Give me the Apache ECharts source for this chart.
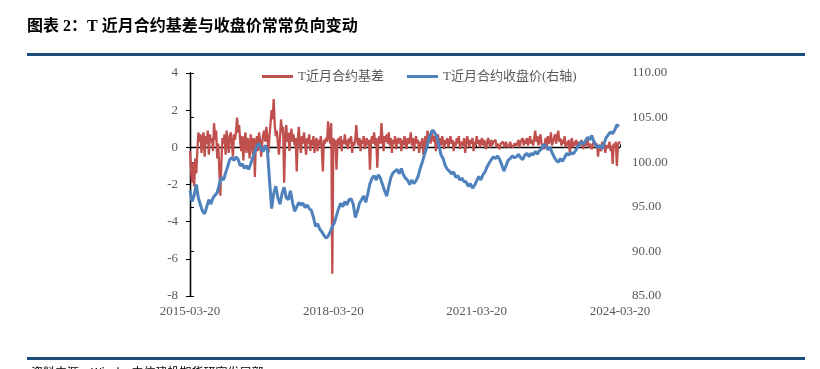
<!DOCTYPE html>
<html>
<head>
<meta charset="utf-8">
<script src="https://cdn.jsdelivr.net/npm/echarts@6/dist/echarts.min.js"></script>
<style>
html,body{margin:0;padding:0;background:#fff;}
#chart{width:820px;height:369px;}
</style>
</head>
<body>
<div id="chart"></div>
<script>
// X axis: days since 2015-03-20 (3 years = 1096 days each)
const tickLabels = ['2015-03-20', '2018-03-20', '2021-03-20', '2024-03-20'];
const tickStepDays = 1096;
const basisStepDays = 8;
const priceStepDays = 16;

// T near-month basis (left axis), one reading every 8 days
const basis = [
-0.2,-1.2,-1.9,-0.8,-2.1,-0.6,-1.4,-0.2,0.8,0.3,
0.7,-0.3,0.5,0.8,-0.5,0.6,0.2,0.9,-0.4,0.7,
0.3,0.5,-0.2,1.3,0.4,0.9,-0.6,0.2,-1.2,-2.6,
-0.8,0.5,0.2,0.7,-0.4,0.9,0.3,-0.3,0.6,0.8,
0.2,-0.5,0.7,0.4,0.9,1.6,0.8,1.2,0.3,-0.2,
0.6,-0.7,0.4,0.8,-0.3,0.5,0.2,-0.6,0.7,0.3,
-0.4,0.5,-1.6,0.3,0.6,-0.2,0.8,0.4,-0.5,0.2,
0.7,0.9,0.3,1.1,0.5,-0.3,0.6,1.3,2.0,1.5,
2.6,1.2,0.6,0.9,0.2,-0.4,0.5,1.5,0.8,1.1,
-1.9,0.4,1.2,0.3,0.8,-0.2,0.6,1.0,0.3,0.7,
0.1,0.5,-1.3,0.4,1.1,0.2,-0.3,0.6,0.2,0.8,
0.1,-0.4,0.5,0.2,0.7,-0.2,0.4,0.1,0.6,-0.3,
0.3,0.5,-0.2,0.4,0.1,0.6,-0.1,-1.3,0.4,0.2,
0.5,0.3,1.4,0.6,0.2,1.3,-6.8,0.5,0.1,0.4,
-1.2,0.3,0.5,0.1,0.6,-0.2,0.4,0.2,0.7,0.1,
0.4,-0.1,0.5,0.2,0.6,-0.3,0.3,0.1,0.5,1.2,
0.3,0.1,0.5,-0.2,0.4,0.2,0.6,-0.1,0.3,0.5,
0.1,0.4,-1.2,0.3,0.6,0.2,0.8,0.1,0.5,-1.1,
0.3,0.6,0.2,1.3,0.4,-0.2,0.6,0.3,0.7,0.2,
0.8,0.1,0.5,-0.3,0.4,0.2,0.6,-0.1,0.3,0.5,
0.2,0.5,-0.2,0.4,0.1,0.6,0.3,-0.1,0.5,0.2,
0.4,0.8,0.1,0.5,-0.2,0.3,0.6,0.2,0.4,-0.3,
0.3,0.1,0.5,-0.4,0.2,0.6,0.0,0.9,0.4,0.7,
0.2,0.9,0.5,0.3,0.6,-0.2,0.4,0.7,0.2,0.5,
0.1,0.6,0.3,-0.1,0.4,0.2,0.5,0.0,0.3,0.6,
0.2,0.4,-0.2,0.3,0.1,0.5,0.2,0.6,-0.1,0.3,
0.4,0.1,0.5,-0.3,0.2,0.6,0.3,0.0,0.4,0.2,
0.5,-0.2,0.3,0.1,0.6,0.2,0.4,0.0,0.3,0.5,
0.1,0.4,0.2,-0.1,0.3,0.5,0.2,0.0,0.4,0.1,
0.3,0.2,0.4,0.0,0.2,0.3,-0.1,0.2,0.1,0.3,
0.2,0.0,0.3,0.1,0.2,0.0,0.3,0.1,0.2,0.0,
0.2,0.3,0.1,0.2,0.4,0.0,0.3,0.2,0.5,0.1,
0.4,0.2,0.5,0.1,0.3,0.6,0.2,0.4,0.1,0.5,
0.9,0.3,0.6,0.1,0.4,0.7,0.2,0.3,-0.1,0.2,
0.5,0.0,0.6,0.2,0.4,0.8,0.1,0.3,0.5,0.7,
0.2,0.6,0.9,0.3,0.5,0.1,0.4,0.2,0.6,0.0,
0.3,0.1,0.4,-0.3,0.2,0.5,0.0,0.3,0.1,0.4,
0.2,0.0,0.3,0.1,0.4,0.2,-0.1,0.3,0.1,0.2,
0.4,0.0,0.2,0.3,-0.1,0.2,0.1,0.3,0.0,0.2,
-0.5,0.1,0.2,-0.2,0.3,0.0,0.2,-0.3,0.1,0.2,
0.0,0.3,-0.2,0.1,-0.9,0.2,0.0,0.3,-1.0,0.1,
0.3,0.2
];

// T near-month closing price (right axis), one reading every 16 days
const price = [
96.8,95.6,96.3,97.5,96.0,95.2,94.5,94.2,95.0,95.8,95.3,96.0,
96.3,96.6,97.5,98.3,98.0,98.8,99.5,100.3,100.5,100.2,100.6,100.3,99.6,99.8,99.3,99.6,99.2,99.8,100.5,101.2,101.8,102.1,101.5,101.2,
101.9,101.3,98.0,94.8,96.5,97.3,96.0,95.3,96.5,97.2,96.0,95.8,96.8,95.5,94.5,95.0,95.5,95.2,95.4,94.9,95.2,94.8,94.6,93.8,
92.8,93.1,92.5,92.2,91.8,91.5,91.7,92.2,92.8,93.2,94.0,94.8,95.4,95.0,95.6,95.2,95.8,95.9,95.3,93.8,94.5,95.4,95.8,96.2,
95.5,96.5,97.6,98.2,98.5,98.0,98.6,98.2,97.5,96.8,96.2,97.3,98.3,98.8,99.0,99.2,98.7,99.3,98.6,98.2,98.0,97.5,98.0,97.6,
97.9,98.4,99.3,100.0,100.8,101.5,102.5,103.2,103.6,103.3,102.8,101.8,100.8,100.4,99.6,99.2,99.0,98.7,98.9,98.3,98.5,98.0,98.2,97.8,
97.8,97.3,97.6,97.1,97.4,97.9,98.4,98.0,98.6,98.9,99.5,99.9,100.3,100.6,100.4,100.7,100.3,99.7,99.0,99.6,100.2,100.4,100.7,100.5,
100.6,100.9,100.5,100.3,100.8,101.0,100.6,101.0,100.8,101.2,100.9,101.3,101.5,102.0,101.8,101.4,101.7,101.1,100.6,100.2,100.0,100.4,100.1,100.5,
101.0,100.8,101.1,100.9,101.2,101.6,102.0,102.3,102.0,102.4,102.8,102.5,103.0,102.3,101.9,101.6,101.9,101.5,102.2,102.8,103.1,103.4,103.2,103.6,
104.2,104.0
];

const basisData = basis.map((v, i) => [i * basisStepDays, v]);
const priceData = price.map((v, i) => [i * priceStepDays, v]);

const serif = "'Liberation Serif','Noto Sans CJK SC',serif";
const gray = '#595959';
const xMax = tickStepDays * (tickLabels.length - 1);

const chart = echarts.init(document.getElementById('chart'), null, {renderer: 'canvas'});
chart.setOption({
  animation: false,
  backgroundColor: '#fff',
  grid: {left: 190, right: 200, top: 73, bottom: 73, containLabel: false},
  legend: {
    left: 262, top: 70, padding: 0,
    itemWidth: 31, itemHeight: 3, itemGap: 23,
    textStyle: {color: gray, fontFamily: serif, fontSize: 13},
    data: [{name: 'T近月合约基差', icon: 'rect'}, {name: 'T近月合约收盘价(右轴)', icon: 'rect'}]
  },
  xAxis: [{
    type: 'value', min: 0, max: xMax, interval: tickStepDays,
    position: 'bottom',
    axisLine: {show: false}, axisTick: {show: false}, splitLine: {show: false},
    axisLabel: {
      color: gray, fontFamily: serif, fontSize: 13, margin: 9,
      showMinLabel: true, showMaxLabel: true,
      formatter: v => tickLabels[Math.round(v / tickStepDays)] || ''
    }
  }, {
    type: 'value', min: 0, max: xMax, interval: tickStepDays,
    axisLine: {show: true, onZero: true, onZeroAxisIndex: 0, lineStyle: {color: '#000', width: 1.3}},
    axisTick: {show: true, length: 3, lineStyle: {color: '#000'}},
    axisLabel: {show: false}, splitLine: {show: false}
  }],
  yAxis: [{
    type: 'value', min: -8, max: 4, interval: 2, position: 'left',
    axisLine: {show: true, lineStyle: {color: '#000', width: 1.3}},
    axisTick: {show: true, length: 4, lineStyle: {color: '#000'}},
    splitLine: {show: false},
    axisLabel: {color: gray, fontFamily: serif, fontSize: 13, margin: 12}
  }, {
    type: 'value', min: 85, max: 110, interval: 5, position: 'right',
    axisLine: {show: true, lineStyle: {color: '#000', width: 1.3}},
    axisTick: {show: true, length: 4, lineStyle: {color: '#000'}},
    splitLine: {show: false},
    axisLabel: {color: gray, fontFamily: serif, fontSize: 13, margin: 12,
      formatter: v => v.toFixed(2)}
  }],
  series: [{
    name: 'T近月合约基差', type: 'line', xAxisIndex: 0, yAxisIndex: 0,
    data: basisData, symbol: 'none', showSymbol: false,
    lineStyle: {color: '#C0504D', width: 2.3}, itemStyle: {color: '#C0504D'}
  }, {
    name: 'T近月合约收盘价(右轴)', type: 'line', xAxisIndex: 0, yAxisIndex: 1,
    data: priceData, symbol: 'none', showSymbol: false,
    lineStyle: {color: '#4F81BD', width: 3}, itemStyle: {color: '#4F81BD'}
  }],
  graphic: [
    {type: 'text', left: 27, top: 19, style: {text: '图表 2：T 近月合约基差与收盘价常常负向变动',
      font: "bold 16px 'Liberation Serif','Noto Sans CJK SC',serif", fill: '#000'}},
    {type: 'rect', shape: {x: 27, y: 53, width: 778, height: 3}, style: {fill: '#1F4E79'}},
    {type: 'rect', shape: {x: 27, y: 357, width: 778, height: 3}, style: {fill: '#1F4E79'}},
    {type: 'text', left: 31, top: 366, style: {text: '资料来源：Wind，中信建投期货研究发展部',
      font: "12px 'Noto Sans CJK SC',sans-serif", fill: '#000'}}
  ]
});
</script>
</body>
</html>
